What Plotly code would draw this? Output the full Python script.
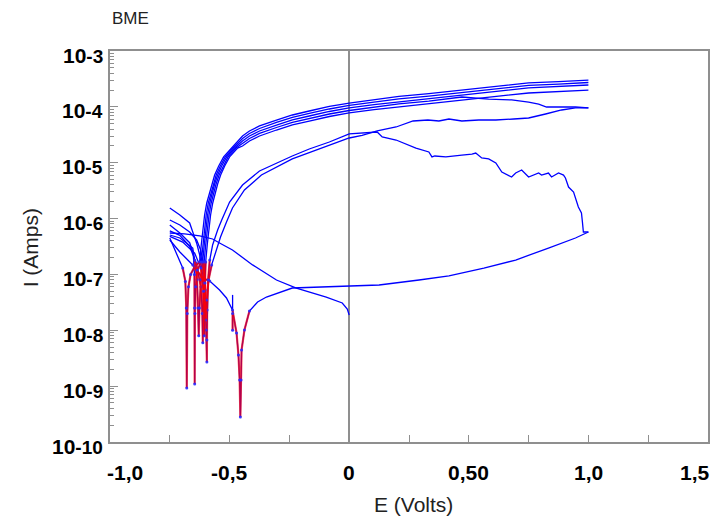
import math
import plotly.graph_objects as go

# Cyclic polarisation of sample "BME": potential E (V) vs. |current| I (A)

# initial sweep from open circuit down to the cathodic limit
ocp_E = [0.0, -0.008, -0.029, -0.096, -0.221, -0.304, -0.404, -0.488, -0.542, -0.571, -0.625, -0.688, -0.75]
ocp_I = [1.88e-8, 2.40e-8, 3.08e-8, 3.94e-8, 5.71e-8, 7.94e-8, 1.48e-7, 2.74e-7, 3.66e-7, 4.31e-7, 4.88e-7, 5.30e-7, 5.52e-7]

# cycle 1, forward
c1f_E = [-0.75, -0.708, -0.654, -0.613, -0.583, -0.542, -0.513, -0.488, -0.471, -0.463,
         -0.458, -0.455, -0.452, -0.450, -0.438, -0.417, -0.383, -0.346, -0.238, -0.125,
         0.0, 0.125, 0.292, 0.417, 0.563, 0.696, 0.833, 0.888, 0.946, 1.0]
c1f_I = [4.14e-7, 2.52e-7, 1.48e-7, 8.63e-8, 7.63e-8, 5.26e-8, 3.79e-8, 2.31e-8, 8.95e-9, 3.61e-9,
         1.29e-9, 2.81e-10, 1.29e-9, 4.44e-9, 1.01e-8, 2.21e-8, 3.21e-8, 3.94e-8, 5.71e-8, 5.96e-8,
         6.21e-8, 6.47e-8, 7.94e-8, 9.38e-8, 1.30e-7, 1.81e-7, 2.97e-7, 3.66e-7, 4.49e-7, 5.75e-7]

# cycle 1, reverse
c1r_E = [1.0, 0.979, 0.975, 0.971, 0.958, 0.946, 0.938, 0.917, 0.904, 0.896,
         0.875, 0.846, 0.833, 0.804, 0.792, 0.75, 0.721, 0.696, 0.679, 0.638,
         0.613, 0.583, 0.554, 0.529, 0.513, 0.471, 0.404, 0.358, 0.346, 0.333,
         0.279, 0.196, 0.138, 0.117, 0.054, 0.0, -0.083, -0.167, -0.238, -0.304,
         -0.375, -0.446, -0.5, -0.533, -0.55, -0.571, -0.583, -0.59, -0.594, -0.595,
         -0.595, -0.598, -0.604, -0.613, -0.625, -0.638, -0.654, -0.667, -0.708, -0.75]
c1r_I = [5.75e-7, 5.75e-7, 8.69e-7, 1.26e-6, 1.61e-6, 2.43e-6, 2.99e-6, 3.67e-6, 5.32e-6, 6.02e-6,
         6.54e-6, 5.55e-6, 6.54e-6, 6.02e-6, 6.54e-6, 5.55e-6, 7.41e-6, 6.54e-6, 5.55e-6, 6.82e-6,
         9.88e-6, 1.17e-5, 1.22e-5, 1.49e-5, 1.43e-5, 1.37e-5, 1.27e-5, 1.32e-5, 1.27e-5, 1.56e-5,
         1.83e-5, 2.55e-5, 2.89e-5, 3.55e-5, 3.40e-5, 3.27e-5, 2.35e-5, 1.76e-5, 1.32e-5, 9.88e-6,
         7.11e-6, 3.99e-6, 1.98e-6, 9.43e-7, 6.25e-7, 3.37e-7, 1.81e-7, 7.94e-8, 2.31e-8, 6.70e-9,
         2.70e-9, 1.01e-8, 3.48e-8, 9.77e-8, 2.23e-7, 3.66e-7, 5.75e-7, 8.34e-7, 1.16e-6, 1.55e-6]

# cycle 2, forward
c2f_E = [-0.75, -0.708, -0.667, -0.638, -0.621, -0.608, -0.602, -0.6, -0.596, -0.588,
         -0.575, -0.554, -0.538, -0.513, -0.488, -0.438, -0.367, -0.238, -0.083, 0.0,
         0.054, 0.117, 0.196, 0.267, 0.329, 0.375, 0.417, 0.471, 0.542, 0.613,
         0.688, 0.75, 0.821, 0.888, 0.946, 1.0]
c2f_I = [9.43e-7, 7.67e-7, 5.75e-7, 4.14e-7, 2.74e-7, 1.48e-7, 5.26e-8, 1.53e-8, 3.48e-8, 7.94e-8,
         1.48e-7, 2.74e-7, 4.68e-7, 8.69e-7, 1.55e-6, 3.25e-6, 6.02e-6, 1.17e-5, 2.08e-5, 2.77e-5,
         3.10e-5, 3.70e-5, 4.36e-5, 5.58e-5, 5.82e-5, 5.58e-5, 6.06e-5, 5.58e-5, 5.82e-5, 5.82e-5,
         6.06e-5, 6.32e-5, 7.45e-5, 8.79e-5, 9.55e-5, 9.55e-5]

# cycle 2, reverse
c2r_E = [1.0, 0.946, 0.875, 0.825, 0.792, 0.75, 0.679, 0.583, 0.471, 0.333,
         0.208, 0.104, 0.0, -0.083, -0.167, -0.2375, -0.304, -0.375, -0.417, -0.446,
         -0.473, -0.5065, -0.527, -0.544, -0.5565, -0.565, -0.577, -0.586, -0.594, -0.6,
         -0.6065, -0.609, -0.611, -0.612, -0.614, -0.62, -0.64, -0.667, -0.708, -0.75]
c2r_I = [9.55e-5, 9.94e-5, 9.94e-5, 9.94e-5, 1.12e-4, 1.22e-4, 1.33e-4, 1.38e-4, 1.50e-4, 1.27e-4,
         1.13e-4, 9.92e-5, 8.61e-5, 7.45e-5, 6.19e-5, 5.25e-5, 4.27e-5, 3.34e-5, 2.72e-5, 2.21e-5,
         1.83e-5, 1.27e-5, 8.73e-6, 6.02e-6, 4.16e-6, 2.99e-6, 1.90e-6, 1.16e-6, 6.25e-7, 3.37e-7,
         1.67e-7, 7.0e-8, 2.0e-8, 6.0e-9, 2.0e-8, 6.0e-8, 1.6e-7, 3.2e-7, 5.0e-7, 6.0e-7]

# cycle 3, forward
c3f_E = [-0.75, -0.721, -0.696, -0.685, -0.681, -0.679, -0.677, -0.672, -0.663, -0.645,
         -0.625, -0.6185, -0.6125, -0.6045, -0.5955, -0.5835, -0.575, -0.5625, -0.5455, -0.525,
         -0.4915, -0.446, -0.417, -0.375, -0.304, -0.2375, -0.167, -0.083, 0.0, 0.104,
         0.208, 0.333, 0.471, 0.625, 0.75, 0.875, 1.0]
c3f_I = [4.49e-7, 2.23e-7, 1.30e-7, 7.5e-8, 2.5e-8, 9.3e-10, 2.0e-8, 6.0e-8, 1.0e-7, 1.4e-7,
         1.67e-7, 3.37e-7, 6.25e-7, 1.16e-6, 1.90e-6, 2.99e-6, 4.16e-6, 6.02e-6, 8.73e-6, 1.27e-5,
         1.83e-5, 3.01e-5, 3.70e-5, 4.55e-5, 5.81e-5, 7.15e-5, 8.43e-5, 1.02e-4, 1.17e-4, 1.35e-4,
         1.54e-4, 1.73e-4, 2.00e-4, 2.36e-4, 2.68e-4, 2.84e-4, 3.02e-4]

# cycle 3, reverse
c3r_E = [1.0, 0.875, 0.75, 0.625, 0.471, 0.333, 0.208, 0.104, 0.0, -0.083,
         -0.167, -0.2375, -0.304, -0.375, -0.417, -0.446, -0.479, -0.5125, -0.533, -0.55,
         -0.5625, -0.571, -0.583, -0.592, -0.6, -0.606, -0.6125, -0.62, -0.626, -0.629,
         -0.632, -0.636, -0.646, -0.654, -0.708, -0.75]
c3r_I = [2.46e-4, 2.31e-4, 2.18e-4, 1.92e-4, 1.63e-4, 1.41e-4, 1.25e-4, 1.10e-4, 9.55e-5, 8.26e-5,
         6.86e-5, 5.82e-5, 4.73e-5, 3.70e-5, 3.01e-5, 2.45e-5, 1.83e-5, 1.27e-5, 8.73e-6, 6.02e-6,
         4.16e-6, 2.99e-6, 1.90e-6, 1.16e-6, 6.25e-7, 3.37e-7, 1.67e-7, 8.0e-8, 2.5e-8, 8.0e-9,
         2.5e-8, 8.0e-8, 1.8e-7, 2.97e-7, 4.49e-7, 5.08e-7]

# cycle 4, forward
c4f_E = [-0.75, -0.708, -0.667, -0.652, -0.647, -0.6465, -0.646, -0.645, -0.642, -0.635,
         -0.6185, -0.612, -0.606, -0.598, -0.589, -0.577, -0.5685, -0.556, -0.539, -0.5185,
         -0.485, -0.446, -0.417, -0.375, -0.304, -0.2375, -0.167, -0.083, 0.0, 0.104,
         0.208, 0.333, 0.471, 0.625, 0.75, 0.875, 1.0]
c4f_I = [7.67e-7, 5.5e-7, 3.7e-7, 2.4e-7, 1.0e-7, 2.5e-8, 1.09e-9, 2.0e-8, 6.0e-8, 1.2e-7,
         1.67e-7, 3.37e-7, 6.25e-7, 1.16e-6, 1.90e-6, 2.99e-6, 4.16e-6, 6.02e-6, 8.73e-6, 1.27e-5,
         1.83e-5, 2.72e-5, 3.34e-5, 4.10e-5, 5.25e-5, 6.45e-5, 7.61e-5, 9.16e-5, 1.06e-4, 1.22e-4,
         1.39e-4, 1.56e-4, 1.81e-4, 2.13e-4, 2.42e-4, 2.56e-4, 2.73e-4]

# cycle 4, reverse
c4r_E = [1.0, 0.875, 0.75, 0.625, 0.471, 0.333, 0.208, 0.104, 0.0, -0.083,
         -0.167, -0.2375, -0.304, -0.375, -0.417, -0.446, -0.4665, -0.5, -0.5205, -0.5375,
         -0.55, -0.5585, -0.5705, -0.5795, -0.5875, -0.5935, -0.6, -0.603, -0.606, -0.609,
         -0.62, -0.646, -0.696, -0.75]
c4r_I = [2.00e-4, 1.88e-4, 1.77e-4, 1.56e-4, 1.33e-4, 1.15e-4, 1.02e-4, 8.95e-5, 7.77e-5, 6.72e-5,
         5.58e-5, 4.74e-5, 3.85e-5, 3.01e-5, 2.45e-5, 1.99e-5, 1.83e-5, 1.27e-5, 8.73e-6, 6.02e-6,
         4.16e-6, 2.99e-6, 1.90e-6, 1.16e-6, 6.25e-7, 3.37e-7, 1.67e-7, 7.0e-8, 8.0e-9, 5.0e-8,
         1.3e-7, 2.4e-7, 3.8e-7, 4.8e-7]

# short transient recorded during cycle 1
glitch_E = [-0.4875, -0.4875, -0.4875]
glitch_I = [4.3e-8, 2.0e-8, 1.0e-8]

scans = [
    (ocp_E, ocp_I), (c1f_E, c1f_I), (c1r_E, c1r_I), (c2f_E, c2f_I), (c2r_E, c2r_I),
    (c3f_E, c3f_I), (c3r_E, c3r_I), (c4f_E, c4f_I), (c4r_E, c4r_I), (glitch_E, glitch_I),
]

x_tick_vals = [-1.0, -0.75, -0.5, -0.25, 0.0, 0.25, 0.5, 0.75, 1.0, 1.25, 1.5]
x_label_vals = [-1.0, -0.5, 0.0, 0.5, 1.0, 1.5]
x_label_text = ["-1,0", "-0,5", "0", "0,50", "1,0", "1,5"]
y_tick_vals = [1e-10, 1e-9, 1e-8, 1e-7, 1e-6, 1e-5, 1e-4, 1e-3]
y_label_exp = ["-10", "-9", "-8", "-7", "-6", "-5", "-4", "-3"]

BLUE = "rgb(0,0,255)"
AXIS = "#8f8f8f"
FONT = "Liberation Sans, Arial, sans-serif"
X_RANGE = [-1.0, 1.5]


def sparse_runs(E, I):
    """Points near the current zero-crossings, where samples are widely spaced."""
    xs, ys = [], []
    prev = False
    for e, i in zip(E, I):
        lim = 2e-7 if e < -0.57 else 3e-8
        hit = e < -0.4 and i < lim
        if hit:
            xs.append(e)
            ys.append(i)
        elif prev:
            xs.append(None)
            ys.append(None)
        prev = hit
    return xs, ys


fig = go.Figure()
for E, I in scans:
    fig.add_trace(go.Scatter(x=E, y=I, mode="lines",
                             line=dict(color=BLUE, width=1.3),
                             hoverinfo="skip", showlegend=False))

for E, I in scans:
    xs, ys = sparse_runs(E, I)
    if xs:
        fig.add_trace(go.Scatter(x=xs, y=ys, mode="lines+markers",
                                 line=dict(color="rgba(255,0,0,0.7)", width=2.2),
                                 marker=dict(color="rgba(40,40,255,0.9)", size=3),
                                 hoverinfo="skip", showlegend=False))

label_font = dict(family=FONT, size=21, color="black", weight="bold")
annotations = []

# x tick labels; the two end labels are kept inside the frame
for v, t in zip(x_label_vals, x_label_text):
    anchor, shift = "center", 0
    if v == X_RANGE[0]:
        anchor, shift = "left", -5
    elif v == X_RANGE[1]:
        anchor, shift = "right", 4
    annotations.append(dict(text=t, xref="x", yref="paper", x=v, y=0,
                            xanchor=anchor, yanchor="middle", xshift=shift, yshift=-30,
                            showarrow=False, font=label_font))

# y tick labels: powers of ten with a large exponent
for v, e in zip(y_tick_vals, y_label_exp):
    txt = "10<span style='font-size:19px'>" + e + "</span>"
    annotations.append(dict(text=txt, xref="paper", yref="y", x=0, y=math.log10(v),
                            xanchor="right", yanchor="middle", xshift=-5, yshift=-4,
                            showarrow=False, font=label_font))

annotations += [
    dict(text="BME", xref="paper", yref="paper", x=0.0, y=1.084,
         xanchor="left", yanchor="middle", showarrow=False,
         font=dict(family=FONT, size=17, color="#222222")),
    dict(text="I (Amps)", xref="paper", yref="paper", x=-0.1333, y=0.496,
         xanchor="center", yanchor="middle", textangle=-90, showarrow=False,
         font=dict(family=FONT, size=21, color="#222222")),
    dict(text="E (Volts)", xref="paper", yref="paper", x=0.508, y=-0.161,
         xanchor="center", yanchor="middle", showarrow=False,
         font=dict(family=FONT, size=21, color="#222222")),
]

fig.update_layout(
    width=720, height=523,
    margin=dict(l=110, r=10, t=51, b=81),
    paper_bgcolor="white", plot_bgcolor="white",
    font=dict(family=FONT),
    xaxis=dict(
        range=X_RANGE, tickmode="array", tickvals=x_tick_vals, showticklabels=False,
        ticks="inside", ticklen=7, tickwidth=1, tickcolor=AXIS,
        showline=True, linecolor=AXIS, linewidth=1.5, mirror=True,
        showgrid=False, zeroline=True, zerolinecolor=AXIS, zerolinewidth=2,
    ),
    yaxis=dict(
        type="log", range=[-10, -3], tickmode="array", tickvals=y_tick_vals, showticklabels=False,
        ticks="inside", ticklen=8, tickwidth=1, tickcolor=AXIS,
        minor=dict(ticks="inside", ticklen=4, tickcolor=AXIS, dtick="D1", showgrid=False),
        showline=True, linecolor=AXIS, linewidth=1.5, mirror=True,
        showgrid=False, zeroline=False,
    ),
    annotations=annotations,
)

fig.write_html("out.html")
